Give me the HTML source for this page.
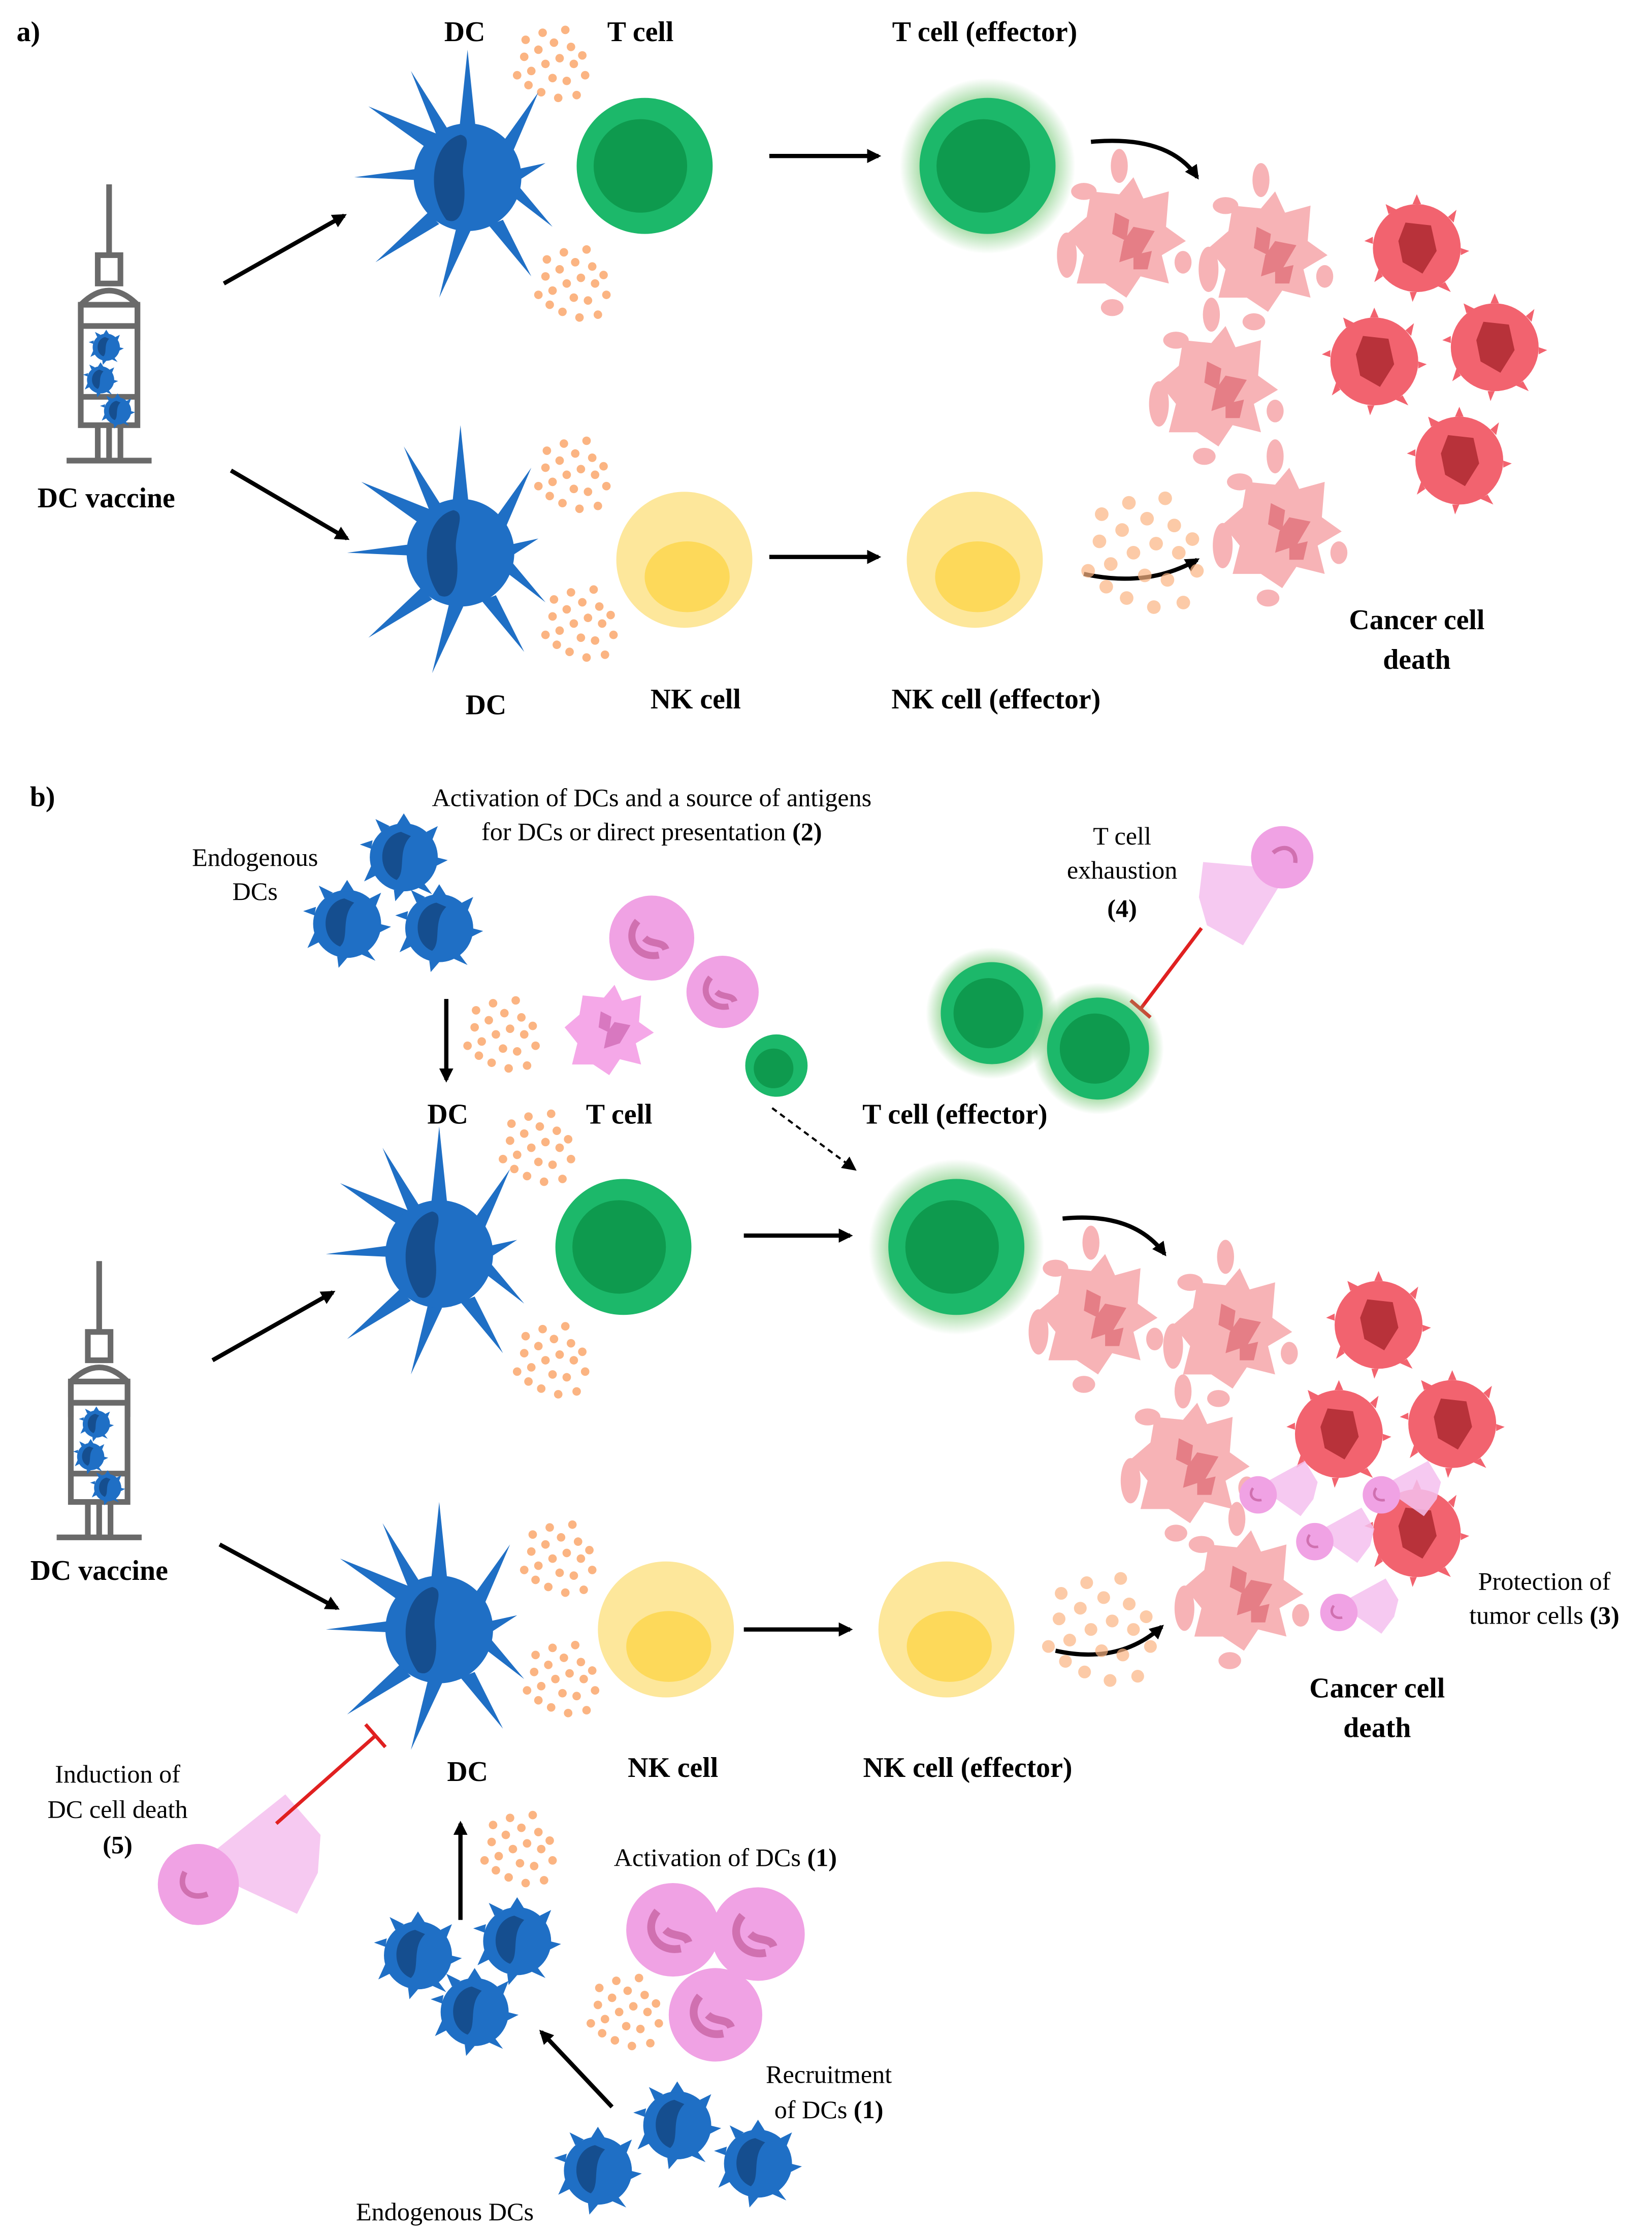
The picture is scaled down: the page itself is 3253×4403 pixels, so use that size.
<!DOCTYPE html>
<html><head><meta charset="utf-8"><style>
html,body{margin:0;padding:0;background:#fff;}
svg{display:block;}
.b{font-family:"Liberation Serif",serif;font-weight:bold;font-size:20px;fill:#000;text-anchor:middle;}
.n{font-family:"Liberation Serif",serif;font-size:18px;fill:#000;text-anchor:middle;}
</style></head><body>
<svg width="3253" height="4403" viewBox="0 0 1166 1578" xmlns="http://www.w3.org/2000/svg">
<defs>
<marker id="ah" markerWidth="10" markerHeight="10" refX="8" refY="5" orient="auto" markerUnits="userSpaceOnUse"><path d="M0,0 L10,5 L0,10 Z" fill="#000"/></marker>
<radialGradient id="glow"><stop offset="0.7" stop-color="#7dcc7d" stop-opacity="0.8"/><stop offset="1" stop-color="#7dcc7d" stop-opacity="0"/></radialGradient>
<g id="dc">
 <g fill="#1f6fc5">
  <polygon points="-6,-32 0,-90 6,-32"/><polygon points="-28,-20 -70,-50 -20,-30"/>
  <polygon points="-35,2 -80,0 -35,-6"/><polygon points="-28,25 -65,60 -20,33"/>
  <polygon points="-8,36 -20,85 2,38"/><polygon points="15,34 45,70 25,30"/>
  <polygon points="30,12 60,35 35,5"/><polygon points="25,-25 50,-60 32,-18"/>
  <polygon points="32,-5 55,-10 35,3"/><polygon points="-22,-30 -40,-75 -14,-34"/>
  <circle r="38"/>
 </g>
 <path d="M-5,-30 C-25,-25 -30,10 -15,30 C-5,35 0,20 -3,0 C-5,-15 5,-28 -5,-30Z" fill="#154e8f"/>
</g>
<g id="sdc">
 <g fill="#1f6fc5"><circle r="24"/>
 <polygon points="-5,-23 0,-31 5,-23"/><polygon points="16,-18 24,-22 20,-12"/><polygon points="23,0 31,2 23,6"/><polygon points="14,18 20,26 9,21"/><polygon points="-7,23 -6,31 0,24"/><polygon points="-20,13 -28,17 -23,6"/><polygon points="-23,-6 -31,-9 -22,-12"/><polygon points="-16,-18 -20,-27 -10,-22"/></g>
 <path d="M-2,-18 C-18,-15 -20,10 -5,16 C2,10 -5,-5 5,-15Z" fill="#154e8f"/>
</g>
<g id="tc"><circle r="48" fill="#1cb86a"/><circle r="33" cx="-3" fill="#0e9a4e"/></g>
<g id="tce"><circle r="62" fill="url(#glow)"/><use href="#tc"/></g>
<g id="nk"><circle r="48" fill="#fde79b"/><ellipse cx="2" cy="12" rx="30" ry="25" fill="#fdd95a"/></g>
<g id="dy" fill="#f7b3b6">
 <path d="M-25,-30 L-5,-28 5,-40 12,-25 30,-30 28,-5 42,5 25,15 30,35 10,30 0,45 -15,35 -35,35 -30,15 -42,0 -28,-12Z"/>
 <ellipse cx="-5" cy="-48" rx="6" ry="12"/><ellipse cx="-42" cy="15" rx="7" ry="16"/><ellipse cx="-30" cy="-30" rx="9" ry="6"/><ellipse cx="-10" cy="52" rx="8" ry="6"/><ellipse cx="40" cy="20" rx="6" ry="8"/>
 <path d="M-8,-15 L2,-10 0,5 -10,0Z M5,-5 L20,-2 10,15 -5,20 -2,5Z M5,15 L18,12 15,25 5,25Z" fill="#e57e86"/>
</g>
<g id="cc">
 <circle r="31" fill="#f2636f"/>
 <g fill="#f2636f"><polygon points="-3,-31 0,-38 3,-31"/><polygon points="22,-22 28,-27 26,-18"/><polygon points="31,0 37,2 31,5"/><polygon points="20,24 24,31 15,27"/><polygon points="-5,31 -3,38 0,31"/><polygon points="-24,20 -30,24 -27,15"/><polygon points="-31,-3 -37,-5 -31,-8"/><polygon points="-20,-24 -22,-31 -14,-27"/></g>
 <path d="M-8,-18 L10,-16 14,2 4,18 -10,10 -13,-5Z" fill="#b8323a"/>
</g>
<g id="pk"><circle r="30" fill="#f0a2e4"/><path d="M-10,-12 C-20,0 -10,15 5,12 M-5,0 C0,5 8,2 10,8" stroke="#d070b0" stroke-width="5" fill="none"/></g>
<g id="pkx"><path d="M0,-10 L55,-40 L70,-15 L65,5 L50,25 Z" fill="#f5c0ef" opacity="0.85"/><circle r="22" fill="#f0a2e4"/><path d="M-6,-8 C-12,0 -6,8 4,6" stroke="#d070b0" stroke-width="3" fill="none"/></g>
<g id="dots" fill="#fbb482">
 <circle cx="0" cy="0" r="3"/><circle cx="10" cy="-4" r="3"/><circle cx="20" cy="0" r="3"/><circle cx="-10" cy="5" r="3"/><circle cx="5" cy="10" r="3"/><circle cx="15" cy="12" r="3"/><circle cx="-5" cy="-10" r="3"/><circle cx="6" cy="-15" r="3"/><circle cx="18" cy="-12" r="3"/><circle cx="-15" cy="-5" r="3"/><circle cx="-3" cy="20" r="3"/><circle cx="9" cy="24" r="3"/><circle cx="22" cy="22" r="3"/><circle cx="-12" cy="15" r="3"/><circle cx="28" cy="8" r="3"/><circle cx="-2" cy="-22" r="3"/><circle cx="14" cy="-24" r="3"/><circle cx="-20" cy="8" r="3"/><circle cx="-14" cy="-17" r="3"/><circle cx="26" cy="-6" r="3"/>
</g>
<g id="syr" stroke="#6a6a6a" stroke-width="4" fill="none">
 <line x1="30" y1="0" x2="30" y2="50"/><rect x="22" y="50" width="16" height="20"/>
 <path d="M10,110 L10,85 Q30,65 50,85 L50,110"/><rect x="10" y="85" width="40" height="85"/>
 <line x1="10" y1="100" x2="50" y2="100"/><line x1="10" y1="150" x2="50" y2="150"/>
 <line x1="30" y1="170" x2="30" y2="195"/><line x1="22" y1="170" x2="22" y2="195"/><line x1="38" y1="170" x2="38" y2="195"/>
 <line x1="0" y1="195" x2="60" y2="195"/>
 <g stroke="none"><use href="#sdc" transform="translate(28,115) scale(0.4)"/><use href="#sdc" transform="translate(24,138) scale(0.4)"/><use href="#sdc" transform="translate(36,160) scale(0.4)"/></g>
</g>
</defs>

<!-- PART A -->
<text x="20" y="29" class="b">a)</text>
<use href="#syr" transform="translate(47,130)"/>
<text x="75" y="358" class="b">DC vaccine</text>
<line x1="158" y1="200" x2="243" y2="152" stroke="#000" stroke-width="3" marker-end="url(#ah)"/>
<line x1="163" y1="332" x2="245" y2="380" stroke="#000" stroke-width="3" marker-end="url(#ah)"/>
<text x="328" y="29" class="b">DC</text><text x="452" y="29" class="b">T cell</text><text x="695" y="29" class="b">T cell (effector)</text>
<use href="#dots" transform="translate(385,45)"/><use href="#dots" transform="translate(400,200)"/>
<use href="#dc" transform="translate(330,125)"/>
<use href="#tc" transform="translate(455,117)"/>
<line x1="543" y1="110" x2="620" y2="110" stroke="#000" stroke-width="3" marker-end="url(#ah)"/>
<use href="#tce" transform="translate(697,117)"/>
<use href="#dy" transform="translate(795,165)"/><use href="#dy" transform="translate(895,175)"/><use href="#dy" transform="translate(860,270)"/><use href="#dy" transform="translate(905,370)"/>
<use href="#cc" transform="translate(1000,175)"/><use href="#cc" transform="translate(970,255)"/><use href="#cc" transform="translate(1055,245)"/><use href="#cc" transform="translate(1030,325)"/>
<path d="M770,100 Q825,95 845,125" stroke="#000" stroke-width="3" fill="none" marker-end="url(#ah)"/>
<use href="#dots" transform="translate(400,335)"/><use href="#dots" transform="translate(405,440)"/>
<use href="#dc" transform="translate(325,390)"/>
<use href="#nk" transform="translate(483,395)"/>
<line x1="543" y1="393" x2="620" y2="393" stroke="#000" stroke-width="3" marker-end="url(#ah)"/>
<use href="#nk" transform="translate(688,395)"/>
<path d="M765,405 Q810,415 845,395" stroke="#000" stroke-width="3" fill="none" marker-end="url(#ah)"/>
<use href="#dots" transform="translate(800,390) scale(1.6)" opacity="0.7"/>
<text x="343" y="504" class="b">DC</text><text x="491" y="500" class="b">NK cell</text><text x="703" y="500" class="b">NK cell (effector)</text>
<text x="1000" y="444" class="b">Cancer cell</text><text x="1000" y="472" class="b">death</text>

<!-- PART B -->
<text x="30" y="569" class="b">b)</text>
<text x="460" y="569" class="n">Activation of DCs and a source of antigens</text>
<text x="460" y="593" class="n">for DCs or direct presentation <tspan font-weight="bold">(2)</tspan></text>
<text x="180" y="611" class="n">Endogenous</text><text x="180" y="635" class="n">DCs</text>
<use href="#sdc" transform="translate(285,605)"/><use href="#sdc" transform="translate(245,652)"/><use href="#sdc" transform="translate(310,655)"/>
<line x1="315" y1="705" x2="315" y2="762" stroke="#000" stroke-width="3" marker-end="url(#ah)"/>
<use href="#dots" transform="translate(350,730)"/>
<use href="#pk" transform="translate(460,662)"/>
<g transform="translate(430,725) scale(0.75)"><path d="M-25,-30 L-5,-28 5,-40 12,-25 30,-30 28,-5 42,5 25,15 30,35 10,30 0,45 -15,35 -35,35 -30,15 -42,0 -28,-12Z" fill="#f5a8e8"/><path d="M-8,-15 L2,-10 0,5 -10,0Z M5,-5 L20,-2 10,15 -5,20 -2,5Z" fill="#d878c0"/></g>
<use href="#pk" transform="translate(510,700) scale(0.85)"/>
<circle cx="548" cy="752" r="22" fill="#1cb86a"/><circle cx="546" cy="754" r="14" fill="#0e9a4e"/>
<line x1="545" y1="782" x2="603" y2="825" stroke="#000" stroke-width="1.5" stroke-dasharray="4,3" marker-end="url(#ah)"/>
<text x="792" y="596" class="n">T cell</text><text x="792" y="620" class="n">exhaustion</text><text x="792" y="647" class="b" style="font-size:18px">(4)</text>
<use href="#pkx" transform="translate(905,605) rotate(150)"/>
<line x1="848" y1="655" x2="805" y2="712" stroke="#e02020" stroke-width="2.5"/><line x1="798" y1="706" x2="812" y2="718" stroke="#e02020" stroke-width="2.5"/>
<use href="#tce" transform="translate(700,715) scale(0.75)"/><use href="#tce" transform="translate(775,740) scale(0.75)"/>
<text x="316" y="793" class="b">DC</text><text x="437" y="793" class="b">T cell</text><text x="674" y="793" class="b">T cell (effector)</text>
<use href="#dots" transform="translate(375,810)"/><use href="#dots" transform="translate(385,960)"/>
<use href="#dc" transform="translate(310,885)"/>
<use href="#tc" transform="translate(440,880)"/>
<line x1="525" y1="872" x2="600" y2="872" stroke="#000" stroke-width="3" marker-end="url(#ah)"/>
<use href="#tce" transform="translate(675,880)"/>
<use href="#dy" transform="translate(775,925)"/><use href="#dy" transform="translate(870,935)"/><use href="#dy" transform="translate(840,1030)"/><use href="#dy" transform="translate(878,1120)"/>
<use href="#cc" transform="translate(973,935)"/><use href="#cc" transform="translate(945,1012)"/><use href="#cc" transform="translate(1025,1005)"/><use href="#cc" transform="translate(1000,1082)"/>
<use href="#pkx" transform="translate(888,1055) scale(0.6)"/><use href="#pkx" transform="translate(928,1088) scale(0.6)"/><use href="#pkx" transform="translate(975,1055) scale(0.6)"/><use href="#pkx" transform="translate(945,1138) scale(0.6)"/>
<path d="M750,860 Q800,855 822,885" stroke="#000" stroke-width="3" fill="none" marker-end="url(#ah)"/>
<text x="1090" y="1122" class="n">Protection of</text><text x="1090" y="1146" class="n">tumor cells <tspan font-weight="bold">(3)</tspan></text>
<text x="972" y="1198" class="b">Cancer cell</text><text x="972" y="1226" class="b">death</text>
<use href="#syr" transform="translate(40,890)"/>
<text x="70" y="1115" class="b">DC vaccine</text>
<line x1="150" y1="960" x2="235" y2="912" stroke="#000" stroke-width="3" marker-end="url(#ah)"/>
<line x1="155" y1="1090" x2="238" y2="1135" stroke="#000" stroke-width="3" marker-end="url(#ah)"/>
<use href="#dots" transform="translate(390,1100)"/><use href="#dots" transform="translate(392,1185)"/>
<use href="#dc" transform="translate(310,1150)"/>
<use href="#nk" transform="translate(470,1150)"/>
<line x1="525" y1="1150" x2="600" y2="1150" stroke="#000" stroke-width="3" marker-end="url(#ah)"/>
<use href="#nk" transform="translate(668,1150)"/>
<path d="M745,1165 Q790,1175 820,1148" stroke="#000" stroke-width="3" fill="none" marker-end="url(#ah)"/>
<use href="#dots" transform="translate(770,1150) scale(1.5)" opacity="0.7"/>
<text x="330" y="1257" class="b">DC</text><text x="475" y="1254" class="b">NK cell</text><text x="683" y="1254" class="b">NK cell (effector)</text>
<text x="83" y="1258" class="n">Induction of</text><text x="83" y="1283" class="n">DC cell death</text><text x="83" y="1308" class="b" style="font-size:18px">(5)</text>
<use href="#pkx" transform="translate(140,1330) scale(1.3) rotate(-10)"/>
<line x1="195" y1="1287" x2="265" y2="1225" stroke="#e02020" stroke-width="2.5"/><line x1="258" y1="1217" x2="272" y2="1233" stroke="#e02020" stroke-width="2.5"/>
<line x1="325" y1="1355" x2="325" y2="1287" stroke="#000" stroke-width="3" marker-end="url(#ah)"/>
<use href="#dots" transform="translate(362,1305)"/><use href="#dots" transform="translate(437,1420)"/>
<text x="512" y="1317" class="n">Activation of DCs <tspan font-weight="bold">(1)</tspan></text>
<use href="#pk" transform="translate(475,1362) scale(1.1)"/><use href="#pk" transform="translate(535,1365) scale(1.1)"/><use href="#pk" transform="translate(505,1422) scale(1.1)"/>
<use href="#sdc" transform="translate(295,1380)"/><use href="#sdc" transform="translate(365,1370)"/><use href="#sdc" transform="translate(335,1420)"/>
<line x1="432" y1="1487" x2="382" y2="1434" stroke="#000" stroke-width="3" marker-end="url(#ah)"/>
<text x="585" y="1470" class="n">Recruitment</text><text x="585" y="1495" class="n">of DCs <tspan font-weight="bold">(1)</tspan></text>
<text x="314" y="1567" class="n">Endogenous DCs</text>
<use href="#sdc" transform="translate(422,1532)"/><use href="#sdc" transform="translate(478,1500)"/><use href="#sdc" transform="translate(535,1527)"/>
</svg>
</body></html>
